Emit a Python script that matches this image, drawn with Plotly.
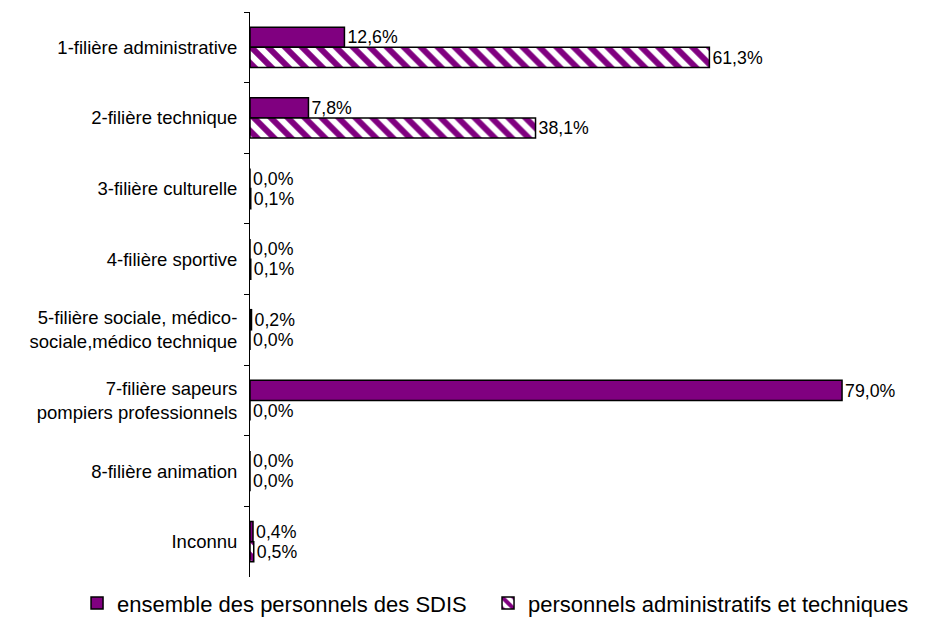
import plotly.graph_objects as go

categories = [
    "1-filière administrative",
    "2-filière technique",
    "3-filière culturelle",
    "4-filière sportive",
    "5-filière sociale, médico-<br>sociale,médico technique",
    "7-filière sapeurs<br>pompiers professionnels",
    "8-filière animation",
    "Inconnu",
]
ensemble = [12.6, 7.8, 0.0, 0.0, 0.2, 79.0, 0.0, 0.4]
admin_tech = [61.3, 38.1, 0.1, 0.1, 0.0, 0.0, 0.0, 0.5]

def fmt(v):
    return f"{v:.1f}".replace(".", ",") + "%"

fig = go.Figure()
fig.add_trace(go.Bar(
    y=categories, x=ensemble, orientation="h",
    name="ensemble des personnels des SDIS",
    marker=dict(color="#800080", line=dict(color="black", width=1.5)),
    text=[fmt(v) for v in ensemble], textposition="outside",
    textfont=dict(size=18.5, color="black"), cliponaxis=False,
    legend="legend",
))
fig.add_trace(go.Bar(
    y=categories, x=admin_tech, orientation="h",
    name="personnels administratifs et techniques",
    marker=dict(color="white", line=dict(color="black", width=1.5),
                pattern=dict(shape="\\", fgcolor="#800080", bgcolor="white",
                             size=12, solidity=0.5, fgopacity=1)),
    text=[fmt(v) for v in admin_tech], textposition="outside",
    textfont=dict(size=18.5, color="black"), cliponaxis=False,
    legend="legend2",
))

legend_common = dict(orientation="h", xref="container", yref="container",
                     xanchor="left", yanchor="middle", y=0.04,
                     font=dict(size=22), itemwidth=30, bgcolor="rgba(0,0,0,0)")

fig.update_layout(
    width=933, height=620,
    barmode="group", bargap=0.43, bargroupgap=0,
    plot_bgcolor="white", paper_bgcolor="white",
    font=dict(family="Liberation Sans, Arial, sans-serif", size=18, color="black"),
    margin=dict(l=242, r=54, t=4, b=51, autoexpand=False),
    showlegend=True,
    legend=dict(x=0.074, **legend_common),
    legend2=dict(x=0.5145, **legend_common),
)
fig.update_xaxes(range=[0, 85], visible=False, showgrid=False)
fig.update_yaxes(autorange="reversed", showline=True, linecolor="black", linewidth=1,
                 ticks="outside", ticklen=5, tickcolor="black", tickson="boundaries",
                 showgrid=False, tickfont=dict(size=18.5), ticklabelstandoff=8)

fig.write_html("out.html")
